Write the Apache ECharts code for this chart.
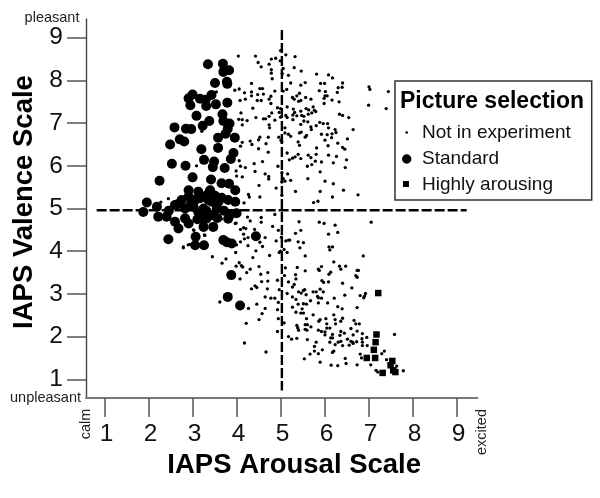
<!DOCTYPE html>
<html>
<head>
<meta charset="utf-8">
<title>IAPS picture selection</title>
<script src="https://cdn.jsdelivr.net/npm/echarts@6/dist/echarts.min.js"></script>
<style>
html, body { margin: 0; padding: 0; background: #fff; }
#chart { width: 600px; height: 498px; }
</style>
</head>
<body>
<div id="chart"></div>
<script>
// [arousal, valence]
const notInExperiment = [
  [4.03,8.57],[4.42,8.57],[4.48,8.42],[4.55,8.32],[4.73,8.38],[4.78,8.50],[4.88,8.52],[4.98,8.46],[4.99,8.70],[5.11,8.60],
  [5.32,8.56],[4.78,8.25],[4.78,8.17],[4.80,8.04],[5.30,8.30],[5.46,8.22],[5.05,8.28],[5.03,8.16],[5.17,8.12],[5.81,8.15],
  [6.08,8.13],[6.17,8.06],[5.22,7.94],[5.45,7.89],[5.55,7.95],[5.90,7.93],[5.99,7.93],[6.40,7.94],[6.39,7.84],[6.30,7.83],
  [7.00,7.85],[7.02,7.79],[7.44,7.74],[4.33,7.93],[3.95,7.77],[4.05,7.80],[4.52,7.81],[4.58,7.81],[4.17,7.71],[4.33,7.73],
  [4.33,7.64],[4.47,7.67],[4.60,7.68],[4.86,7.75],[5.05,7.75],[5.13,7.79],[4.77,7.63],[4.73,7.56],[5.42,7.70],[5.36,7.64],
  [5.26,7.60],[5.30,7.56],[5.56,7.60],[5.68,7.56],[5.87,7.76],[6.01,7.74],[6.28,7.72],[6.00,7.64],[6.05,7.64],[5.98,7.58],
  [6.16,7.54],[6.32,7.50],[4.07,7.53],[4.19,7.56],[4.46,7.53],[4.55,7.53],[4.77,7.46],[5.40,7.51],[5.45,7.53],[5.98,7.46],
  [6.99,7.42],[7.39,7.34],[4.36,7.35],[4.92,7.36],[4.99,7.34],[5.14,7.38],[5.28,7.33],[5.45,7.28],[5.57,7.34],[5.63,7.31],
  [5.73,7.38],[5.76,7.30],[5.79,7.27],[4.09,7.24],[4.79,7.24],[4.96,7.25],[5.11,7.18],[5.27,7.19],[5.31,7.25],[5.36,7.17],
  [5.47,7.18],[5.52,7.16],[5.62,7.21],[5.70,7.24],[6.33,7.21],[6.40,7.18],[6.54,7.13],[4.04,7.09],[4.12,7.08],[4.23,7.06],
  [4.43,7.13],[4.60,7.10],[4.65,7.10],[4.73,7.16],[4.86,7.07],[4.99,7.14],[5.14,7.13],[5.27,7.08],[5.52,7.05],[5.61,7.03],
  [5.88,7.02],[5.96,6.99],[6.06,6.99],[6.64,6.85],[4.12,6.96],[4.73,6.96],[4.74,6.89],[5.09,6.89],[5.45,6.97],[5.46,6.79],
  [5.68,6.91],[5.69,6.85],[5.80,6.94],[6.08,6.89],[6.23,6.85],[6.25,6.78],[6.16,6.75],[5.42,6.77],[5.58,6.71],[5.55,6.67],
  [5.09,6.77],[5.22,6.69],[5.17,6.74],[5.92,6.74],[6.05,6.73],[6.15,6.66],[6.00,6.60],[6.51,6.63],[4.52,6.67],[4.49,6.61],
  [4.71,6.67],[4.95,6.67],[5.00,6.60],[5.02,6.56],[4.30,6.58],[4.34,6.50],[4.12,6.55],[4.08,6.46],[5.39,6.56],[5.42,6.48],
  [6.07,6.47],[6.29,6.53],[6.40,6.43],[6.45,6.39],[5.81,6.42],[4.49,6.40],[4.66,6.52],[5.14,6.30],[5.39,6.27],[5.26,6.18],
  [5.32,6.21],[5.19,6.14],[5.45,6.17],[5.62,6.25],[5.68,6.19],[5.80,6.27],[6.08,6.25],[6.26,6.22],[5.78,6.11],[5.92,6.09],
  [6.19,6.07],[6.49,6.14],[6.46,5.96],[4.05,6.12],[4.08,5.99],[4.19,5.96],[4.39,6.05],[4.58,6.10],[4.71,6.32],[4.93,5.99],
  [5.60,5.99],[5.70,6.03],[5.02,5.84],[3.98,5.88],[3.99,5.76],[4.12,5.74],[4.41,5.87],[4.64,5.81],[4.72,5.75],[4.72,5.69],
  [5.15,5.81],[5.89,5.86],[5.05,5.70],[5.09,5.64],[5.02,5.62],[5.22,5.66],[5.61,5.70],[6.00,5.64],[6.19,5.58],[4.50,5.54],
  [4.89,5.48],[5.33,5.40],[5.89,5.40],[6.42,5.43],[6.75,5.32],[4.26,5.33],[4.28,5.27],[4.52,5.27],[6.17,5.27],[5.74,5.14],
  [5.84,5.17],[4.16,5.13],[5.02,5.31],
  [3.08,6.00],[2.44,5.23],[2.27,5.15],[3.53,7.73],[3.20,6.81],[3.64,4.77],[3.96,4.65],[3.01,4.50],[2.93,4.16],[2.78,4.10],[3.26,4.38],
  [4.24,4.80],[4.30,4.71],[4.55,4.79],[4.55,4.68],[4.86,4.86],[4.81,4.58],[4.94,4.49],[3.98,4.66],[3.64,4.75],[4.08,4.51],
  [4.15,4.55],[4.20,4.53],[4.15,4.40],[4.17,4.29],[4.40,4.51],[4.08,4.22],[4.25,4.32],[4.25,4.13],[3.99,4.15],[4.64,4.32],
  [4.89,4.24],[4.52,4.21],[4.58,4.11],[4.43,4.01],[3.97,3.97],[2.78,4.08],[2.89,4.15],[3.02,4.49],[3.27,4.37],[3.44,3.87],
  [3.75,3.82],[3.66,3.72],[4.05,3.73],[4.10,3.66],[4.13,3.63],[3.98,3.65],[4.36,3.85],[4.74,3.90],[4.96,3.97],[4.50,3.64],
  [4.30,3.58],[4.22,3.50],[4.54,3.46],[4.70,3.50],[4.07,3.35],[4.56,3.29],[4.70,3.30],[4.92,3.32],[4.96,3.10],[4.69,3.12],
  [4.41,3.19],[4.45,3.15],[4.33,3.12],[4.64,2.93],[4.77,2.90],[4.86,2.90],[3.61,2.81],[4.94,2.80],[4.26,2.66],[4.45,2.76],
  [4.64,2.66],[4.92,2.63],[4.57,2.54],[4.50,2.40],[4.94,2.42],[4.21,2.31],[4.92,2.12],[4.17,1.85],[4.66,1.64],
  [5.41,4.69],[5.87,4.68],[5.98,4.65],[6.23,4.61],[7.05,4.68],[5.45,4.49],[5.33,4.42],[6.08,4.40],[6.29,4.44],[5.11,4.24],
  [5.17,4.26],[5.20,4.26],[5.39,4.22],[5.51,4.20],[5.01,4.33],[5.43,4.08],[6.09,4.10],[6.17,4.10],[6.11,4.03],[5.07,4.04],
  [4.99,4.00],[5.14,3.97],[5.55,3.89],[6.87,3.89],[6.20,3.75],[6.33,3.65],[6.47,3.65],[6.36,3.58],[5.37,3.62],[5.10,3.61],
  [5.55,3.54],[5.85,3.58],[5.92,3.64],[5.87,3.55],[6.13,3.51],[6.09,3.46],[6.73,3.55],[6.76,3.55],[6.70,3.43],[6.73,3.39],
  [5.33,3.45],[5.08,3.43],[5.34,3.35],[5.17,3.28],[5.30,3.22],[5.26,3.16],[5.93,3.31],[5.97,3.27],[6.08,3.28],[6.40,3.25],
  [6.61,3.14],[5.14,3.01],[5.40,3.05],[5.46,3.02],[5.51,3.08],[5.54,3.10],[5.73,3.05],[5.80,3.05],[5.89,3.11],[5.96,3.05],
  [5.57,2.98],[6.45,2.97],[6.80,2.96],[6.92,3.01],[6.90,2.95],[6.88,2.91],[5.26,2.93],[5.34,2.87],[5.83,2.94],[5.92,2.90],
  [5.85,2.91],[5.67,2.84],[6.21,2.90],[5.39,2.76],[5.51,2.77],[5.58,2.76],[5.26,2.69],[5.85,2.79],[6.06,2.79],[6.29,2.70],
  [6.39,2.65],[6.73,2.68],[5.48,2.65],[5.34,2.57],[5.45,2.55],[5.51,2.55],[5.73,2.51],[6.20,2.51],[5.89,2.40],[5.86,2.36],
  [6.02,2.42],[5.58,2.42],[6.23,2.40],[6.40,2.43],[6.36,2.36],[6.66,2.38],[6.70,2.30],[6.78,2.30],[5.07,2.32],[5.55,2.28],
  [5.60,2.28],[5.68,2.23],[5.36,2.26],[5.38,2.21],[5.40,2.15],[5.55,2.17],[5.59,2.15],[6.04,2.30],[6.24,2.30],[6.04,2.20],
  [6.11,2.20],[6.59,2.19],[6.73,2.13],[5.85,2.15],[5.92,2.12],[6.00,2.11],[6.00,2.04],[6.36,2.12],[6.34,2.03],[6.44,2.08],
  [6.64,2.04],[6.17,2.05],[6.13,1.97],[6.17,1.97],[6.51,1.94],[6.85,2.07],[6.95,1.98],[7.58,2.05],[5.17,2.00],[5.24,1.94],
  [5.36,1.96],[5.60,1.93],[5.80,1.87],[5.76,1.77],[6.11,1.87],[6.23,1.81],[6.30,1.87],[6.36,1.89],[6.40,1.79],[6.59,1.89],
  [6.63,1.87],[6.55,1.80],[6.64,1.84],[6.72,1.88],[6.84,1.95],[6.85,1.87],[6.85,1.79],[6.96,1.79],[5.85,1.60],[5.94,1.69],
  [6.17,1.63],[6.20,1.66],[5.66,1.59],[5.76,1.66],[6.80,1.59],[6.83,1.50],[6.46,1.49],[6.48,1.37],[5.53,1.48],[5.89,1.40],
  [6.14,1.33],[6.29,1.32],[6.73,1.34],[7.04,1.34],[7.29,1.60],[7.35,1.66],[7.40,1.46],[7.63,1.31],[7.16,1.21],[7.20,1.17],
  [7.78,1.20]
];
const standard = [
  [3.34,8.38],[3.68,8.39],[3.69,8.20],[3.82,8.24],[3.50,7.94],[3.77,7.97],[3.78,7.92],[2.99,7.67],[2.90,7.58],[2.94,7.42],
  [3.16,7.57],[3.29,7.55],[3.30,7.40],[3.42,7.66],[3.52,7.44],[3.78,7.48],[3.08,7.17],[3.37,7.05],[3.67,7.21],[3.69,7.05],
  [3.83,6.99],[3.22,6.94],[2.58,6.90],[2.84,6.87],[2.96,6.86],[3.79,6.87],[3.74,6.75],[3.57,6.66],[3.95,6.66],[2.70,6.62],
  [2.80,6.57],[2.48,6.50],[3.19,6.39],[3.57,6.42],[3.92,6.30],[3.86,6.16],[3.25,6.14],[3.48,6.10],[3.45,5.97],[2.52,6.05],
  [2.83,6.00],[3.72,5.95],[3.82,5.58],
  [2.24,5.65],[2.99,5.73],[3.41,5.68],[3.65,5.59],[3.96,5.43],[2.90,5.43],[3.12,5.39],[3.39,5.43],[1.95,5.14],[1.87,4.92],
  [2.18,5.04],[2.21,4.81],[2.40,4.81],[2.59,5.08],[2.74,5.20],[2.90,5.28],[3.16,5.24],[3.35,5.20],[3.58,5.16],[3.80,5.20],
  [3.96,5.16],[2.59,4.69],[2.67,4.53],[2.82,4.77],[2.90,4.65],[3.24,5.00],[3.31,4.77],[3.24,4.57],[3.46,4.57],[3.54,5.00],
  [3.84,4.85],[3.99,4.89],[2.44,4.28],[3.06,4.34],[3.05,4.14],[3.25,4.14],[3.69,4.26],[3.77,4.21],[3.88,4.18],[3.01,5.04],
  [3.12,4.92],[3.27,5.28],[2.82,5.00],[3.43,5.16],[3.20,4.77],[3.80,4.76],
  [3.05,5.20],[3.50,5.30],[2.65,5.10],[3.10,4.75],[3.35,5.35],[3.70,4.95],[3.65,5.25],[2.95,5.10],[3.30,4.95],[3.42,4.85],
  [3.55,4.78],[2.45,4.95],
  [4.43,4.35],[3.87,3.44],[3.79,2.93],[4.07,2.73]
];
const highlyArousing = [
  [7.21,3.02],[7.17,2.05],[7.15,1.87],[7.11,1.69],[7.14,1.50],[6.95,1.50],[7.53,1.43],[7.49,1.33],[7.55,1.21],[7.60,1.17],[7.31,1.15]
];
const arousalTicks = [1, 2, 3, 4, 5, 6, 7, 8, 9];
const valenceTicks = [1, 2, 3, 4, 5, 6, 7, 8, 9];
const neutralArousalLine = [[5.02, 9.18], [5.02, 0.74]];
const neutralValenceLine = [[0.81, 4.96], [9.22, 4.96]];
const legendNames = ["Not in experiment", "Standard", "Highly arousing"];

const font = "Liberation Sans";

function smallText(text, x, y, opts) {
  return {
    type: "text",
    x: x,
    y: y,
    rotation: opts && opts.rotation || 0,
    z: 100,
    style: {
      text: text,
      fontFamily: font,
      fontSize: 14.5,
      fill: "#222",
      align: opts && opts.align || "center",
      verticalAlign: "middle"
    }
  };
}

function legendText(text, y) {
  return {
    type: "text",
    x: 422,
    y: y,
    z: 102,
    style: { text: text, fontFamily: font, fontSize: 19, fill: "#111", align: "left", verticalAlign: "middle" }
  };
}

const chart = echarts.init(document.getElementById("chart"), null, { renderer: "canvas" });

chart.setOption({
  animation: false,
  backgroundColor: "#fff",
  grid: { left: 86, right: 122.6, top: 19, bottom: 100 },
  xAxis: {
    type: "value",
    min: 0.568,
    max: 9.464,
    name: "IAPS Arousal Scale",
    nameLocation: "middle",
    nameGap: 51,
    nameTextStyle: { fontFamily: font, fontSize: 27.5, fontWeight: "bold", color: "#000", padding: [0, 0, 0, 25] },
    splitLine: { show: false },
    axisLine: { lineStyle: { color: "#777", width: 2 } },
    axisTick: { length: 19, customValues: arousalTicks, lineStyle: { color: "#555", width: 1.5 } },
    axisLabel: { customValues: arousalTicks, margin: 24, padding: [0, 0, 0, 3], fontFamily: font, fontSize: 24.5, color: "#111" }
  },
  yAxis: {
    type: "value",
    min: 0.562,
    max: 9.439,
    name: "IAPS Valence Scale",
    nameLocation: "middle",
    nameGap: 33,
    nameTextStyle: { fontFamily: font, fontSize: 27.5, fontWeight: "bold", color: "#000", padding: [0, 0, 0, 13] },
    splitLine: { show: false },
    axisLine: { lineStyle: { color: "#444", width: 1.4 } },
    axisTick: { length: 19, customValues: valenceTicks, lineStyle: { color: "#555", width: 1.5 } },
    axisLabel: { customValues: valenceTicks, margin: 23, fontFamily: font, fontSize: 24.5, color: "#111" }
  },
  series: [
    { name: legendNames[0], type: "scatter", data: notInExperiment, symbol: "circle", symbolSize: 3.3, itemStyle: { color: "#000", opacity: 1 } },
    { name: legendNames[1], type: "scatter", data: standard, symbol: "circle", symbolSize: 10, itemStyle: { color: "#000", opacity: 1 } },
    { name: legendNames[2], type: "scatter", data: highlyArousing, symbol: "rect", symbolSize: 6.5, itemStyle: { color: "#000", opacity: 1 } },
    { type: "line", data: neutralArousalLine, symbol: "none", silent: true, lineStyle: { color: "#000", width: 2.4, type: [10, 3] } },
    { type: "line", data: neutralValenceLine, symbol: "none", silent: true, lineStyle: { color: "#000", width: 2.4, type: [10, 3] } }
  ],
  graphic: [
    smallText("pleasant", 52, 18),
    smallText("unpleasant", 81, 398, { align: "right" }),
    smallText("calm", 85.7, 424, { rotation: Math.PI / 2 }),
    smallText("excited", 481.7, 432, { rotation: Math.PI / 2 }),
    // legend box
    { type: "rect", z: 100, shape: { x: 395, y: 81, width: 196.7, height: 119 }, style: { fill: "#fff", stroke: "#333", lineWidth: 1.5 } },
    { type: "text", x: 400, y: 102, z: 102, style: { text: "Picture selection", fontFamily: font, fontSize: 23, fontWeight: "bold", fill: "#000", align: "left", verticalAlign: "middle" } },
    { type: "circle", z: 102, shape: { cx: 406.7, cy: 132.5, r: 1.3 }, style: { fill: "#000" } },
    { type: "circle", z: 102, shape: { cx: 406.7, cy: 159, r: 4.7 }, style: { fill: "#000" } },
    { type: "rect", z: 102, shape: { x: 403, y: 181, width: 6, height: 6 }, style: { fill: "#000" } },
    legendText(legendNames[0], 133),
    legendText(legendNames[1], 159),
    legendText(legendNames[2], 185)
  ]
});
</script>
</body>
</html>
